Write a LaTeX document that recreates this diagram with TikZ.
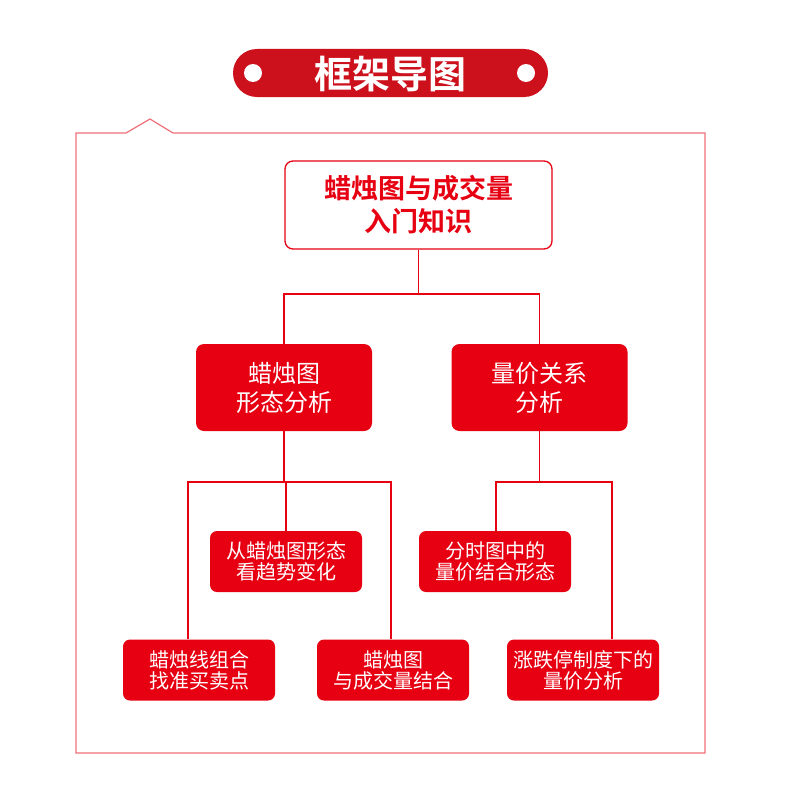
\documentclass[tikz,border=0pt]{standalone}
\usepackage{fontspec}
\setmainfont{Noto Sans CJK SC}
\newfontfamily\cjkbold{Noto Sans CJK SC Bold}
\usepackage{tikz}
\usetikzlibrary{positioning, calc}
\definecolor{boxred}{HTML}{E60012}
\definecolor{bannerred}{HTML}{CC101C}
\definecolor{framepink}{HTML}{EE6F78}
\tikzset{
    rootbox/.style={draw=boxred, fill=white, rounded corners=8pt, line width=1.3pt, minimum width=267pt, minimum height=88pt, inner sep=0pt, align=center, text=boxred, font=\cjkbold\fontsize{27}{33}\selectfont},
    midbox/.style={fill=boxred, rounded corners=8pt, minimum width=176pt, minimum height=87pt, inner sep=0pt, align=center, text=white, font=\fontsize{24}{29}\selectfont},
    leafbox/.style={fill=boxred, rounded corners=7pt, minimum width=152pt, minimum height=61pt, inner sep=0pt, align=center, text=white, font=\fontsize{20}{21}\selectfont},
    link/.style={draw=boxred, line width=1.3pt},
}
\begin{document}
\begin{tikzpicture}[x=1pt, y=-1pt]
\useasboundingbox (0,0) rectangle (800,800);

% banner
\fill[bannerred, rounded corners=24pt] (233,49) rectangle (548,97);
\fill[white] (253,73) circle (9);
\fill[white] (526,73) circle (9);
\node[text=white, font=\cjkbold\fontsize{38}{38}\selectfont] (title) at (390,74) {框架导图};

% outer frame with notch
\draw[framepink, line width=1.2pt] (126,133) -- (150,119) -- (173,133) -- (705,133) -- (705,753) -- (76,753) -- (76,133) -- cycle;

% root and first level
\node[rootbox] (root) at (418.5,205) {蜡烛图与成交量\\入门知识};
\node[midbox] (shape) at (284,387.5) {蜡烛图\\形态分析};
\node[midbox] (volume) at (539.5,387.5) {量价关系\\分析};

\coordinate (busA) at (418.5,294);
\draw[link] (root.south) -- (busA);
\draw[link] (shape.north) -- (shape.north |- busA) -- (volume.north |- busA) -- (volume.north);

% second level
\node[leafbox] (trend) at (286,561.5) {从蜡烛图形态\\看趋势变化};
\node[leafbox] (combo) at (199,670) {蜡烛线组合\\找准买卖点};
\node[leafbox] (match) at (393,670) {蜡烛图\\与成交量结合};
\node[leafbox] (intraday) at (495,561.5) {分时图中的\\量价结合形态};
\node[leafbox] (limit) at (583,670) {涨跌停制度下的\\量价分析};

% drops to the second level
\coordinate (busL) at (284,482);
\coordinate (busR) at (539.5,482);
\coordinate (dropC) at (188,482);
\coordinate (dropM) at (391,482);
\coordinate (dropI) at (496,482);
\coordinate (dropL) at (612,482);
\draw[link] (shape.south) -- (busL);
\draw[link] (dropC |- combo.north) -- (dropC) -- (dropM) -- (dropM |- match.north);
\draw[link] (trend.north) -- (trend.north |- busL);
\draw[link] (volume.south) -- (busR);
\draw[link] (dropI |- intraday.north) -- (dropI) -- (dropL) -- (dropL |- limit.north);
\end{tikzpicture}
\end{document}
